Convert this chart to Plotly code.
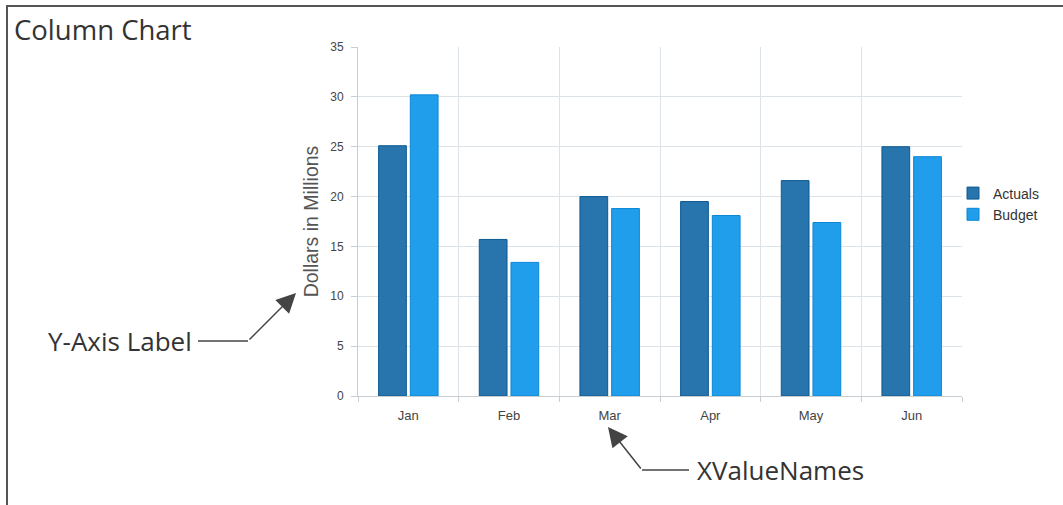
import plotly.graph_objects as go

months = ["Jan", "Feb", "Mar", "Apr", "May", "Jun"]
actuals = [25.1, 15.7, 20.0, 19.5, 21.6, 25.0]
budget = [30.2, 13.4, 18.8, 18.1, 17.4, 24.0]
y_ticks = [0, 5, 10, 15, 20, 25, 30, 35]

W, H = 1063, 505
L, R, T, B = 358, 962, 47, 396  # plot area in pixels


def px(x):
    return (x - L) / (R - L)


def py(y):
    return (B - y) / (B - T)


fig = go.Figure()
fig.add_trace(go.Bar(name="Actuals", x=months, y=actuals,
                     marker=dict(color="#2874AD", line=dict(color="#0D5A92", width=1))))
fig.add_trace(go.Bar(name="Budget", x=months, y=budget,
                     marker=dict(color="#219EEB", line=dict(color="#0B86D4", width=1))))

fig.update_layout(
    width=W, height=H,
    margin=dict(l=L, r=W - R, t=T, b=H - B, autoexpand=False),
    paper_bgcolor="white", plot_bgcolor="white",
    barmode="group", bargap=0.37, bargroupgap=0.125,
    font=dict(family="Liberation Sans, Arial, sans-serif", color="#444"),
    showlegend=True,
    legend=dict(x=px(953), y=py(204), xanchor="left", yanchor="middle",
                font=dict(size=14, color="#333"), itemwidth=30,
                bgcolor="rgba(0,0,0,0)", tracegroupgap=0),
    title=dict(text="Column Chart", xref="container", yref="container",
               x=14 / W, y=1 - 30 / H, xanchor="left", yanchor="middle",
               font=dict(family="Open Sans, sans-serif", size=27.5, color="#333")),
)

fig.update_xaxes(type="category", tickson="boundaries", showgrid=True,
                 gridcolor="#DCE3E8", gridwidth=1, showline=True, linecolor="#C8CFD4",
                 ticks="outside", ticklen=5, tickcolor="#C8CFD4", ticklabelstandoff=7,
                 tickfont=dict(size=13, color="#444"), mirror=False)
fig.update_yaxes(range=[0, 35], tickvals=y_ticks, showgrid=True,
                 gridcolor="#DCE3E8", gridwidth=1, showline=True, linecolor="#C8CFD4",
                 ticks="outside", ticklen=6, tickcolor="#C8CFD4", ticklabelstandoff=5,
                 tickfont=dict(size=12, color="#444"), zeroline=False,
                 title=dict(text="Dollars in Millions", standoff=6,
                            font=dict(size=19.5, color="#555")))

shapes = [
    # outer frame (top and left)
    dict(type="line", xref="paper", yref="paper", x0=px(6), x1=px(1063), y0=py(6), y1=py(6),
         line=dict(color="#555", width=2)),
    dict(type="line", xref="paper", yref="paper", x0=px(7), x1=px(7), y0=py(6), y1=py(505),
         line=dict(color="#555", width=2)),
    # callout horizontal leaders
    dict(type="line", xref="paper", yref="paper", x0=px(198), x1=px(248), y0=py(341), y1=py(341),
         line=dict(color="#444", width=1.5)),
    dict(type="line", xref="paper", yref="paper", x0=px(642), x1=px(689), y0=py(470), y1=py(470),
         line=dict(color="#444", width=1.5)),
]
fig.update_layout(shapes=shapes)

ann_font = dict(family="Open Sans, sans-serif", size=26, color="#333")
fig.add_annotation(xref="paper", yref="paper", x=px(296), y=py(293), text="",
                   showarrow=True, axref="pixel", ayref="pixel", ax=248 - 296, ay=341 - 293,
                   arrowhead=2, arrowsize=2.6, arrowwidth=1.5, arrowcolor="#444")
fig.add_annotation(xref="paper", yref="paper", x=px(608), y=py(427), text="",
                   showarrow=True, axref="pixel", ayref="pixel", ax=642 - 608, ay=470 - 427,
                   arrowhead=2, arrowsize=2.6, arrowwidth=1.5, arrowcolor="#444")
fig.add_annotation(xref="paper", yref="paper", x=px(46), y=py(341), text="Y-Axis Label",
                   xanchor="left", yanchor="middle", showarrow=False, font=ann_font)
fig.add_annotation(xref="paper", yref="paper", x=px(695), y=py(470), text="XValueNames",
                   xanchor="left", yanchor="middle", showarrow=False, font=ann_font)

fig.write_html("out.html", config={"displayModeBar": False},
               post_script="document.body.style.margin='0px';document.body.style.overflow='hidden';")
